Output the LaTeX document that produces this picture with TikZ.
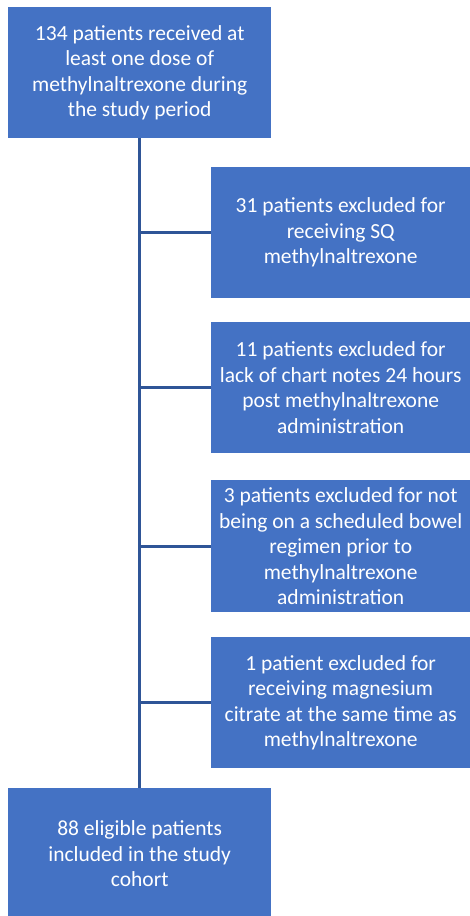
\documentclass[tikz,border=0pt]{standalone}
\usepackage{fontspec}
\setmainfont{Carlito}
\definecolor{boxblue}{HTML}{4472C4}
\definecolor{lineblue}{HTML}{2F5597}
\tikzset{
    flowbox/.style={fill=boxblue, text=white, align=center, anchor=north west,
        inner sep=0pt, font=\fontsize{21.5}{25.5}\selectfont},
    link/.style={draw=lineblue, line width=2.6pt}
}
\begin{document}
\begin{tikzpicture}[x=1pt, y=-1pt]
    \useasboundingbox (0,0) rectangle (470,916);

    % Glowne pudelka przeplywu
    \node[flowbox, minimum width=263, minimum height=131] (start) at (8,7)
        {134 patients received at\\least one dose of\\methylnaltrexone during\\the study period};
    \node[flowbox, minimum width=263, minimum height=131] (cohort) at (8,788)
        {88 eligible patients\\included in the study\\cohort};

    % Wykluczenia po prawej stronie
    \node[flowbox, minimum width=259, minimum height=131] (exA) at (211,167)
        {31 patients excluded for\\receiving SQ\\methylnaltrexone};
    \node[flowbox, minimum width=259, minimum height=131] (exB) at (211,322)
        {11 patients excluded for\\lack of chart notes 24 hours\\post methylnaltrexone\\administration};
    \node[flowbox, minimum width=259, minimum height=132] (exC) at (211,480)
        {3 patients excluded for not\\being on a scheduled bowel\\regimen prior to\\methylnaltrexone\\administration};
    \node[flowbox, minimum width=259, minimum height=131] (exD) at (211,637)
        {1 patient excluded for\\receiving magnesium\\citrate at the same time as\\methylnaltrexone};

    % Linie laczace
    \draw[link] (start.south) -- (cohort.north);
    \foreach \ex in {exA, exB, exC, exD} {
        \draw[link] (\ex.west -| start.south) -- (\ex.west);
    }
\end{tikzpicture}
\end{document}
